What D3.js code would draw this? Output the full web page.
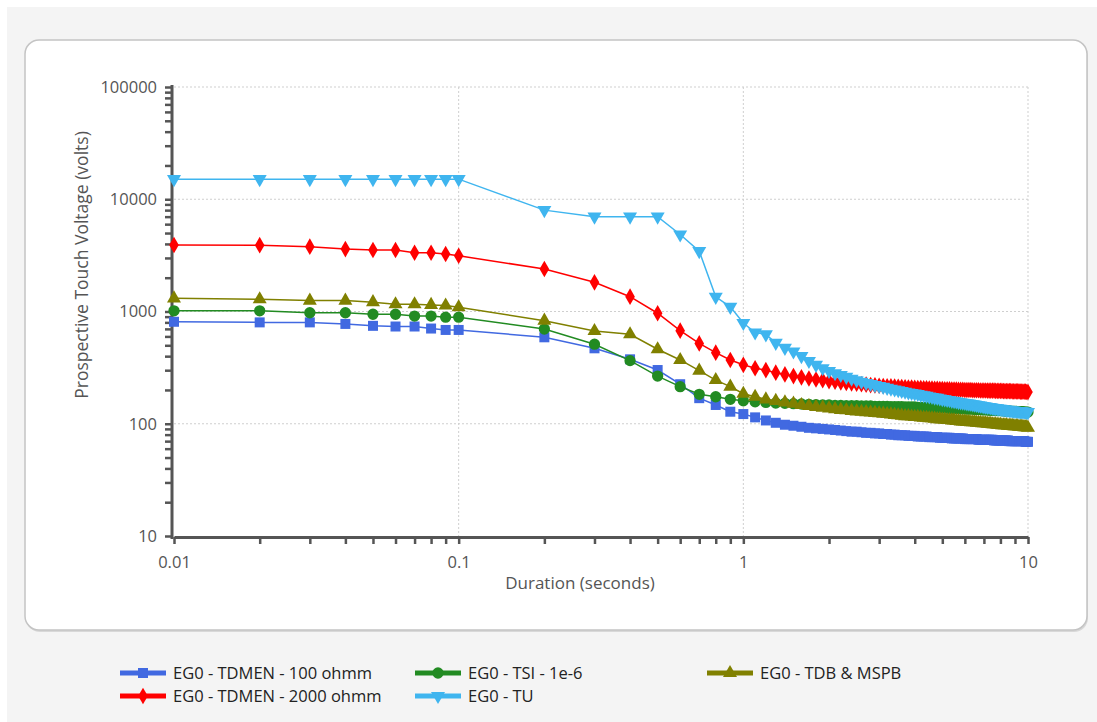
<!DOCTYPE html>
<html>
<head>
<meta charset="utf-8">
<script src="https://cdn.jsdelivr.net/npm/d3@7"></script>
<style>
  body { margin: 0; background: #fff; }
  svg { display: block; font-family: "Open Sans", "Liberation Sans", Arial, sans-serif; }
</style>
</head>
<body>
<div id="chart"></div>
<script>
// durations (seconds)
const durations = [0.01,0.02,0.03,0.04,0.05,0.06,0.07,0.08,0.09,0.1,0.2,0.3,0.4,0.5,0.6,0.7,0.8,0.9,
  1,1.1,1.2,1.3,1.4,1.5,1.6,1.7,1.8,1.9,
  2,2.1,2.2,2.3,2.4,2.5,2.6,2.7,2.8,2.9,
  3,3.1,3.2,3.3,3.4,3.5,3.6,3.7,3.8,3.9,
  4,4.1,4.2,4.3,4.4,4.5,4.6,4.7,4.8,4.9,
  5,5.1,5.2,5.3,5.4,5.5,5.6,5.7,5.8,5.9,
  6,6.1,6.2,6.3,6.4,6.5,6.6,6.7,6.8,6.9,
  7,7.1,7.2,7.3,7.4,7.5,7.6,7.7,7.8,7.9,
  8,8.1,8.2,8.3,8.4,8.5,8.6,8.7,8.8,8.9,
  9,9.1,9.2,9.3,9.4,9.5,9.6,9.7,9.8,9.9,10];

const tdmen100 = [810,800,800,775,745,735,735,705,685,685,589,470,375,301,225,169,147,128,
  122,114,107,102,98,96,94,92,91,90,
  89,88,87,86,85,85,84,83,83,82,
  82,81,81,80,80,79,79,79,78,78,
  78,77,77,77,77,76,76,76,76,75,
  75,75,75,75,74,74,74,74,74,74,
  73,73,73,73,73,73,73,72,72,72,
  72,72,72,72,72,72,71,71,71,71,
  71,71,71,71,71,71,70,70,70,70,
  70,70,70,70,70,70,70,70,69,69,69];

const tdmen2000 = [3910,3900,3780,3600,3530,3530,3340,3340,3250,3140,2390,1820,1355,965,675,520,430,370,
  335,312,300,285,275,266,259,253,248,244,
  240,237,234,231,229,227,225,223,221,220,
  218,217,216,215,214,213,212,211,210,210,
  209,208,208,207,207,206,206,205,205,204,
  204,203,203,203,202,202,202,201,201,201,
  200,200,200,200,199,199,199,199,198,198,
  198,198,197,197,197,197,197,196,196,196,
  196,196,195,195,195,195,195,195,194,194,
  194,194,194,194,193,193,193,193,193,192,192];

const tsi = [1015,1015,975,975,945,945,910,910,890,890,698,511,365,266,214,183,174,165,
  160,157,155,153,152,151,150,149,148,147,
  147,146,146,145,145,145,144,144,144,143,
  143,143,143,142,142,142,142,141,141,141,
  141,140,140,140,140,139,139,139,139,138,
  138,138,138,137,137,137,137,136,136,136,
  136,135,135,135,135,134,134,134,134,133,
  133,133,133,132,132,132,132,131,131,131,
  131,131,130,130,130,130,130,129,129,129,
  129,129,128,128,128,128,128,127,127,127,127];

const tu = [15100,15100,15100,15100,15100,15100,15100,15100,15100,15100,8000,7000,7000,7000,4850,3450,1350,1100,
  790,650,625,525,475,440,400,362,335,312,
  295,282,272,262,252,244,237,231,226,221,
  217,213,209,205,202,199,196,193,190,188,
  186,184,181,179,177,175,173,171,170,168,
  166,165,163,162,160,159,158,156,155,154,
  153,152,151,150,149,148,147,146,145,144,
  143,142,141,141,140,139,138,138,137,136,
  136,135,134,134,133,133,132,132,131,131,
  130,130,130,129,129,129,128,128,128,127,127];

const tdb = [1310,1285,1250,1250,1210,1160,1160,1145,1130,1090,828,670,627,461,370,297,245,214,
  185,174,165,160,155,151,147,144,141,139,
  137,135,133,132,130,129,128,127,126,125,
  124,123,122,121,120,119,118,117,117,116,
  115,115,114,113,113,112,112,111,110,110,
  109,109,108,108,107,107,106,106,105,105,
  105,104,104,103,103,103,102,102,102,101,
  101,101,100,100,100,99,99,99,98,98,
  98,97,97,97,97,96,96,96,96,95,
  95,95,95,94,94,94,94,93,93,93,92];

const yTickLabels = ["10", "100", "1000", "10000", "100000"];
const xTickLabels = ["0.01", "0.1", "1", "10"];

const W = 1097, H = 722;
const svg = d3.select("#chart").append("svg").attr("width", W).attr("height", H);

svg.append("rect").attr("x", 7).attr("y", 7).attr("width", W - 7).attr("height", H - 7).attr("fill", "#f4f4f4");
// panel
svg.append("rect").attr("x", 26).attr("y", 42).attr("width", 1062).attr("height", 590)
  .attr("rx", 14).attr("fill", "#d8d8d8");
svg.append("rect").attr("x", 25).attr("y", 40).attr("width", 1062).attr("height", 590)
  .attr("rx", 14).attr("fill", "#fff").attr("stroke", "#c4c4c4").attr("stroke-width", 1.5);

const x = d3.scaleLog().domain([0.01, 10]).range([174, 1028]);
const y = d3.scaleLog().domain([10, 100000]).range([536, 87]);

// grid
const gridX = [0.1, 1, 10], gridY = [100, 1000, 10000, 100000];
svg.append("g").selectAll("line").data(gridX).join("line")
  .attr("x1", d => x(d)).attr("x2", d => x(d)).attr("y1", 87).attr("y2", 536)
  .attr("stroke", "#cfcfcf").attr("stroke-dasharray", "2,2");
svg.append("g").selectAll("line").data(gridY).join("line")
  .attr("x1", 174).attr("x2", 1028).attr("y1", d => y(d)).attr("y2", d => y(d))
  .attr("stroke", "#cfcfcf").attr("stroke-dasharray", "2,2");

// axes with minor ticks
const xTicks = x.ticks(), yTicks = y.ticks();
const xAxis = svg.append("g").attr("transform", "translate(0,537)")
  .call(d3.axisBottom(x).tickValues(xTicks).tickSize(7).tickSizeOuter(0).tickFormat(d => xTickLabels.includes(String(d)) ? String(d) : ""));
const yAxis = svg.append("g").attr("transform", "translate(172,0)")
  .call(d3.axisLeft(y).tickValues(yTicks).tickSize(7).tickSizeOuter(0).tickFormat(d => yTickLabels.includes(String(d)) ? String(d) : ""));
[xAxis, yAxis].forEach(g => {
  g.select(".domain").attr("stroke", "#555").attr("stroke-width", 3);
  g.selectAll(".tick line").attr("stroke", "#555").attr("stroke-width", 2.5);
  g.selectAll("text").attr("fill", "#555").attr("font-size", 16.5)
    .attr("font-family", "'Open Sans', 'Liberation Sans', Arial, sans-serif");
});
yAxis.select(".domain").attr("d", "M0,85V539");
xAxis.selectAll("text").attr("dy", "1.25em");
yAxis.selectAll("text").attr("x", -15);

svg.append("text").attr("x", 580).attr("y", 589).attr("text-anchor", "middle")
  .attr("fill", "#555").attr("font-size", 17).text("Duration (seconds)");
svg.append("text").attr("transform", "translate(88,265) rotate(-90)").attr("text-anchor", "middle")
  .attr("fill", "#555").attr("font-size", 17.5).text("Prospective Touch Voltage (volts)");

const series = [
  { name: "EG0 - TDMEN - 100 ohmm", values: tdmen100, color: "#4169e1", sym: d3.symbolSquare, size: 100, rot: 0 },
  { name: "EG0 - TSI - 1e-6", values: tsi, color: "#228b22", sym: d3.symbolCircle, size: 100, rot: 0 },
  { name: "EG0 - TDB & MSPB", values: tdb, color: "#808000", sym: d3.symbolTriangle, size: 85, rot: 0 },
  { name: "EG0 - TDMEN - 2000 ohmm", values: tdmen2000, color: "#ff0000", sym: d3.symbolDiamond, size: 80, rot: 0 },
  { name: "EG0 - TU", values: tu, color: "#3fb5ef", sym: d3.symbolTriangle, size: 85, rot: 180 }
];

const line = d3.line().x(d => x(d[0])).y(d => y(d[1]));
// plotting order: TDMEN 100, TDMEN 2000, TSI, TU, TDB
const drawOrder = [0, 3, 1, 4, 2];
drawOrder.forEach(i => {
  const s = series[i];
  const pts = durations.map((t, k) => [t, s.values[k]]);
  const g = svg.append("g");
  g.append("path").datum(pts).attr("d", line).attr("fill", "none")
    .attr("stroke", s.color).attr("stroke-width", 1.5);
  g.selectAll("path.m").data(pts).join("path").attr("class", "m")
    .attr("d", d3.symbol().type(s.sym).size(s.size))
    .attr("transform", d => `translate(${x(d[0])},${y(d[1])}) rotate(${s.rot})`)
    .attr("fill", s.color);
});

// legend
const legendPos = [[120, 673], [415, 673], [707, 673], [120, 696], [415, 696]];
series.forEach((s, i) => {
  const [lx, ly] = legendPos[i];
  const g = svg.append("g").attr("transform", `translate(${lx},${ly})`);
  g.append("line").attr("x1", 0).attr("x2", 46).attr("stroke", s.color).attr("stroke-width", 5);
  g.append("path").attr("d", d3.symbol().type(s.sym).size(s.size))
    .attr("transform", `translate(23,0) rotate(${s.rot})`).attr("fill", s.color);
  g.append("text").attr("x", 53).attr("y", 5.5).attr("font-size", 16.5).attr("fill", "#222").text(s.name);
});
</script>
</body>
</html>
